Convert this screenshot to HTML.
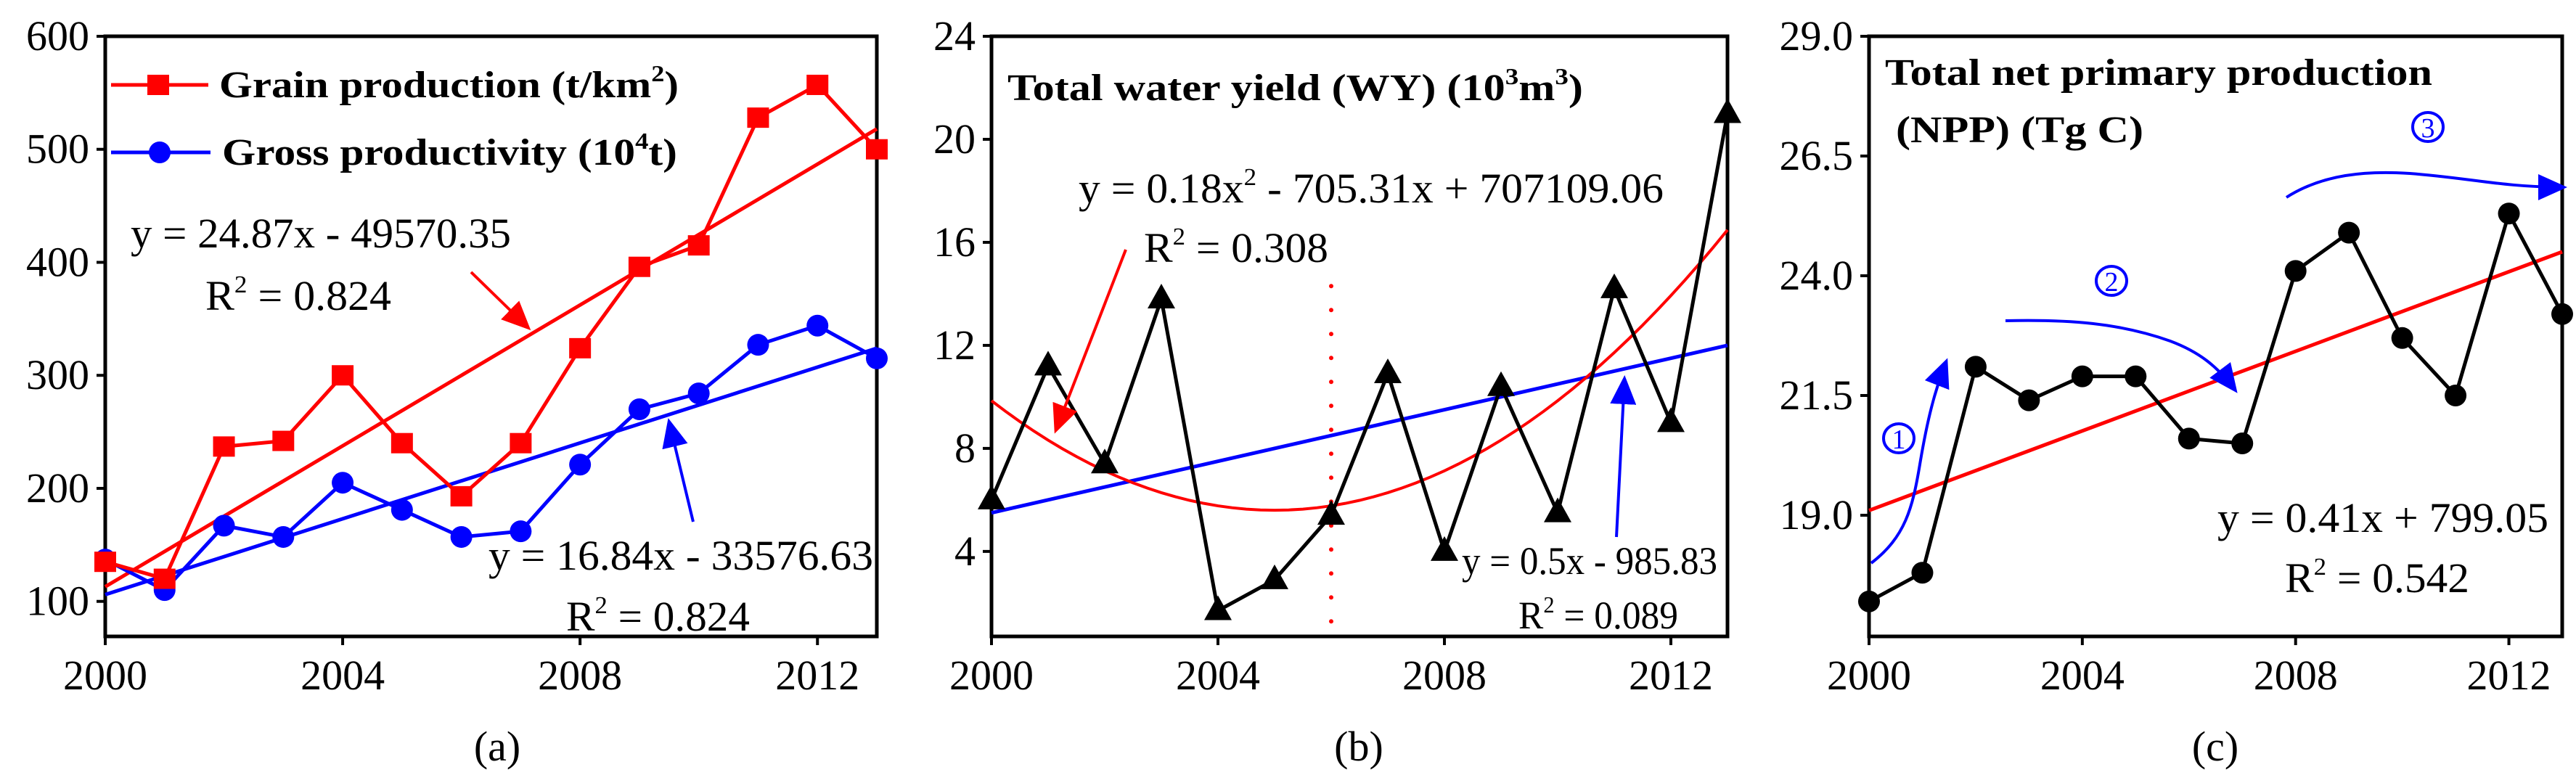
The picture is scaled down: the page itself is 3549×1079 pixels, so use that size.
<!DOCTYPE html>
<html><head><meta charset="utf-8"><style>
html,body{margin:0;padding:0;background:#fff;}
svg{display:block;}
svg text{font-family:"Liberation Serif","Times New Roman",serif;}
</style></head><body>
<svg id="fig" xmlns="http://www.w3.org/2000/svg" width="3549" height="1079" viewBox="0 0 3549 1079" font-family="Liberation Serif, serif">
<defs>
<marker id="arR" markerWidth="40" markerHeight="36" refX="34" refY="18" orient="auto" markerUnits="userSpaceOnUse" viewBox="0 0 40 36"><path d="M0,0 L40,18 L0,36 z" fill="#f00"/></marker>
<marker id="arB" markerWidth="40" markerHeight="36" refX="34" refY="18" orient="auto" markerUnits="userSpaceOnUse" viewBox="0 0 40 36"><path d="M0,0 L40,18 L0,36 z" fill="#00f"/></marker>
</defs>
<g id="layer"></g>
<g>
<text x="302" y="134" font-size="52" font-weight="bold" textLength="633" lengthAdjust="spacingAndGlyphs">Grain production (t/km<tspan font-size="32" dy="-22">2</tspan><tspan dy="22">)</tspan></text>
<text x="306" y="227" font-size="52" font-weight="bold" textLength="627" lengthAdjust="spacingAndGlyphs">Gross productivity (10<tspan font-size="32" dy="-22">4</tspan><tspan dy="22">t)</tspan></text>
<text x="180" y="341" font-size="58" textLength="524" lengthAdjust="spacingAndGlyphs">y = 24.87x - 49570.35</text>
<text x="283" y="427" font-size="58" textLength="256" lengthAdjust="spacingAndGlyphs">R<tspan font-size="34" dy="-24">2</tspan><tspan dy="24"> = 0.824</tspan></text>
<line x1="649" y1="375" x2="727" y2="451" stroke="#f00" stroke-width="4" marker-end="url(#arR)"/>
<text x="673" y="785" font-size="58" textLength="530" lengthAdjust="spacingAndGlyphs">y = 16.84x - 33576.63</text>
<text x="780" y="869" font-size="58" textLength="253" lengthAdjust="spacingAndGlyphs">R<tspan font-size="34" dy="-24">2</tspan><tspan dy="24"> = 0.824</tspan></text>
<line x1="955" y1="719" x2="922" y2="582" stroke="#00f" stroke-width="4" marker-end="url(#arB)"/>
<text x="685" y="1048" font-size="58" text-anchor="middle">(a)</text>
</g>
<g>
<text x="1388" y="138" font-size="52" font-weight="bold" textLength="793" lengthAdjust="spacingAndGlyphs">Total water yield (WY) (10<tspan font-size="32" dy="-22">3</tspan><tspan dy="22">m</tspan><tspan font-size="32" dy="-22">3</tspan><tspan dy="22">)</tspan></text>
<text x="1486" y="279" font-size="58" textLength="806" lengthAdjust="spacingAndGlyphs">y = 0.18x<tspan font-size="34" dy="-24">2</tspan><tspan dy="24"> - 705.31x + 707109.06</tspan></text>
<text x="1576" y="361" font-size="58" textLength="254" lengthAdjust="spacingAndGlyphs">R<tspan font-size="34" dy="-24">2</tspan><tspan dy="24"> = 0.308</tspan></text>
<line x1="1551" y1="344" x2="1455" y2="592" stroke="#f00" stroke-width="4" marker-end="url(#arR)"/>
<text x="2014" y="791" font-size="54" textLength="352" lengthAdjust="spacingAndGlyphs">y = 0.5x - 985.83</text>
<text x="2092" y="866" font-size="54" textLength="220" lengthAdjust="spacingAndGlyphs">R<tspan font-size="32" dy="-22">2</tspan><tspan dy="22"> = 0.089</tspan></text>
<line x1="2227" y1="740" x2="2238" y2="523" stroke="#00f" stroke-width="4" marker-end="url(#arB)"/>
<text x="1872" y="1048" font-size="58" text-anchor="middle">(b)</text>
</g>
<g>
<text x="2597" y="117" font-size="52" font-weight="bold" textLength="754" lengthAdjust="spacingAndGlyphs">Total net primary production</text>
<text x="2612" y="196" font-size="52" font-weight="bold" textLength="341" lengthAdjust="spacingAndGlyphs">(NPP) (Tg C)</text>
<text x="3055" y="733" font-size="58" textLength="456" lengthAdjust="spacingAndGlyphs">y = 0.41x + 799.05</text>
<text x="3148" y="816" font-size="58" textLength="254" lengthAdjust="spacingAndGlyphs">R<tspan font-size="34" dy="-24">2</tspan><tspan dy="24"> = 0.542</tspan></text>
<g><ellipse cx="2616" cy="604" rx="21" ry="20" fill="none" stroke="#00f" stroke-width="4"/><text x="2616" y="618" font-size="38" fill="#00f" text-anchor="middle">1</text></g>
<g><ellipse cx="2909" cy="387" rx="21" ry="20" fill="none" stroke="#00f" stroke-width="4"/><text x="2909" y="401" font-size="38" fill="#00f" text-anchor="middle">2</text></g>
<g><ellipse cx="3345" cy="175" rx="21" ry="20" fill="none" stroke="#00f" stroke-width="4"/><text x="3345" y="189" font-size="38" fill="#00f" text-anchor="middle">3</text></g>
<path d="M2578,776 C2625,740 2635,700 2645,640 C2655,580 2665,540 2681,499" fill="none" stroke="#00f" stroke-width="4" marker-end="url(#arB)"/>
<path d="M2763,442 C2850,440 2920,445 2990,470 C3030,485 3055,505 3079,537" fill="none" stroke="#00f" stroke-width="4" marker-end="url(#arB)"/>
<path d="M3150,272 C3200,240 3260,235 3320,239 C3400,245 3450,258 3531,258" fill="none" stroke="#00f" stroke-width="4" marker-end="url(#arB)"/>
<text x="3052" y="1048" font-size="58" text-anchor="middle">(c)</text>
</g>
</svg>
<script>
const years = [2000,2001,2002,2003,2004,2005,2006,2007,2008,2009,2010,2011,2012,2013];
const grainValues = [135,120,237,242,300,240,193,240,324,396,415,528,557,500];
const grossValues = [137,110,167,157,205,181,157,162,221,270,284,327,344,315];
const grainTrend = [113,518];
const grossTrend = [106,324];
const wyValues = [6.0,11.2,7.4,13.8,1.7,2.9,5.4,10.9,4.0,10.4,5.5,14.2,9.0,21.0];
const wyLinearTrend = [5.5,12.0];
const wyQuad = [0.17,2005,5.6];
const nppValues = [17.2,17.8,22.1,21.4,21.9,21.9,20.6,20.5,24.1,24.9,22.7,21.5,25.3,23.2];
const nppTrend = [19.1,24.5];
const xTicks = [2000,2004,2008,2012];
const yTicksA = [100,200,300,400,500,600];
const yTicksB = [4,8,12,16,20,24];
const yTicksC = ["19.0","21.5","24.0","26.5","29.0"];

const NS = "http://www.w3.org/2000/svg";
const layer = document.getElementById('layer');
function mk(tag, attrs, name, parent) {
  const el = document.createElementNS(NS, tag);
  for (const k in attrs) el.setAttribute(k, attrs[k]);
  
  
  (parent || layer).appendChild(el);
  return el;
}
function makeAxes(p) {
  const x = v => p.x0 + (v - 2000) / 13 * (p.x1 - p.x0);
  const y = v => p.yBot - (v - p.yMin) / (p.yMax - p.yMin) * (p.yBot - p.yTop);
  return {x, y};
}
function frame(p, ax, yTicks, name) {
  const g = mk('g', {}, name + '-axes');
  mk('rect', {x:p.x0, y:p.yTop, width:p.x1-p.x0, height:p.yBot-p.yTop, fill:'none', stroke:'#000', 'stroke-width':5}, name + '-plot-frame', g);
  yTicks.forEach(t => {
    const v = parseFloat(t), yy = ax.y(v);
    mk('line', {x1:p.x0-12, y1:yy, x2:p.x0, y2:yy, stroke:'#000', 'stroke-width':4}, name + '-y-tick', g);
    const tx = mk('text', {x:p.x0-22, y:yy+19, 'font-size':58, 'text-anchor':'end', 'font-family':'Liberation Serif, serif'}, name + '-y-tick-label', g);
    tx.textContent = t;
  });
  xTicks.forEach(t => {
    const xx = ax.x(t);
    mk('line', {x1:xx, y1:p.yBot, x2:xx, y2:p.yBot+12, stroke:'#000', 'stroke-width':4}, name + '-x-tick', g);
    const tx = mk('text', {x:xx, y:950, 'font-size':58, 'text-anchor':'middle', 'font-family':'Liberation Serif, serif'}, name + '-x-tick-label', g);
    tx.textContent = t;
  });
}
function polyline(ax, vals, color, name) {
  return mk('polyline', {points: vals.map((v,i)=>ax.x(years[i])+','+ax.y(v)).join(' '), fill:'none', stroke:color, 'stroke-width':5}, name);
}
function trend(ax, tr, color, name) {
  return mk('line', {x1:ax.x(2000), y1:ax.y(tr[0]), x2:ax.x(2013), y2:ax.y(tr[1]), stroke:color, 'stroke-width':5}, name);
}

const pA = {x0:145, x1:1208, yTop:50, yBot:877, yMin:69, yMax:600};
const aA = makeAxes(pA);
frame(pA, aA, yTicksA, 'panel-a');
trend(aA, grainTrend, '#f00', 'grain-trend-line');
trend(aA, grossTrend, '#00f', 'gross-trend-line');
polyline(aA, grossValues, '#00f', 'gross-series-line');
polyline(aA, grainValues, '#f00', 'grain-series-line');
grossValues.forEach((v,i)=>{ mk('circle', {cx:aA.x(years[i]), cy:aA.y(v), r:15, fill:'#00f'}, 'gross-point'); });
grainValues.forEach((v,i)=>{ mk('rect', {x:aA.x(years[i])-15, y:aA.y(v)-14, width:30, height:28, fill:'#f00'}, 'grain-point'); });
mk('line', {x1:153, y1:117, x2:287, y2:117, stroke:'#f00', 'stroke-width':5}, 'legend-grain-line');
mk('rect', {x:203, y:103, width:30, height:28, fill:'#f00'}, 'legend-grain-marker');
mk('line', {x1:153, y1:210, x2:290, y2:210, stroke:'#00f', 'stroke-width':5}, 'legend-gross-line');
mk('circle', {cx:220, cy:210, r:15, fill:'#00f'}, 'legend-gross-marker');

const pB = {x0:1366, x1:2380, yTop:50, yBot:877, yMin:0.7, yMax:24};
const aB = makeAxes(pB);
frame(pB, aB, yTicksB, 'panel-b');
trend(aB, wyLinearTrend, '#00f', 'wy-linear-trend');
const qpts = [];
for (let k = 0; k <= 52; k++) { const yr = 2000 + k*0.25; qpts.push(aB.x(yr)+','+aB.y(wyQuad[0]*(yr-wyQuad[1])**2+wyQuad[2])); }
mk('polyline', {points:qpts.join(' '), fill:'none', stroke:'#f00', 'stroke-width':4}, 'wy-quadratic-trend');
mk('line', {x1:aB.x(2006), y1:aB.y(14.3), x2:aB.x(2006), y2:aB.y(1.0), stroke:'#f00', 'stroke-width':6, 'stroke-dasharray':'0 33', 'stroke-linecap':'round'}, 'wy-breakpoint-line');
polyline(aB, wyValues, '#000', 'wy-series-line');
wyValues.forEach((v,i)=>{ const cx=aB.x(years[i]), cy=aB.y(v); mk('polygon', {points:(cx)+','+(cy-21)+' '+(cx-19)+','+(cy+13)+' '+(cx+19)+','+(cy+13), fill:'#000'}, 'wy-point'); });

const pC = {x0:2575, x1:3530, yTop:50, yBot:877, yMin:16.47, yMax:29};
const aC = makeAxes(pC);
frame(pC, aC, yTicksC, 'panel-c');
trend(aC, nppTrend, '#f00', 'npp-trend-line');
polyline(aC, nppValues, '#000', 'npp-series-line');
nppValues.forEach((v,i)=>{ mk('circle', {cx:aC.x(years[i]), cy:aC.y(v), r:15, fill:'#000'}, 'npp-point'); });
</script>
</body></html>
